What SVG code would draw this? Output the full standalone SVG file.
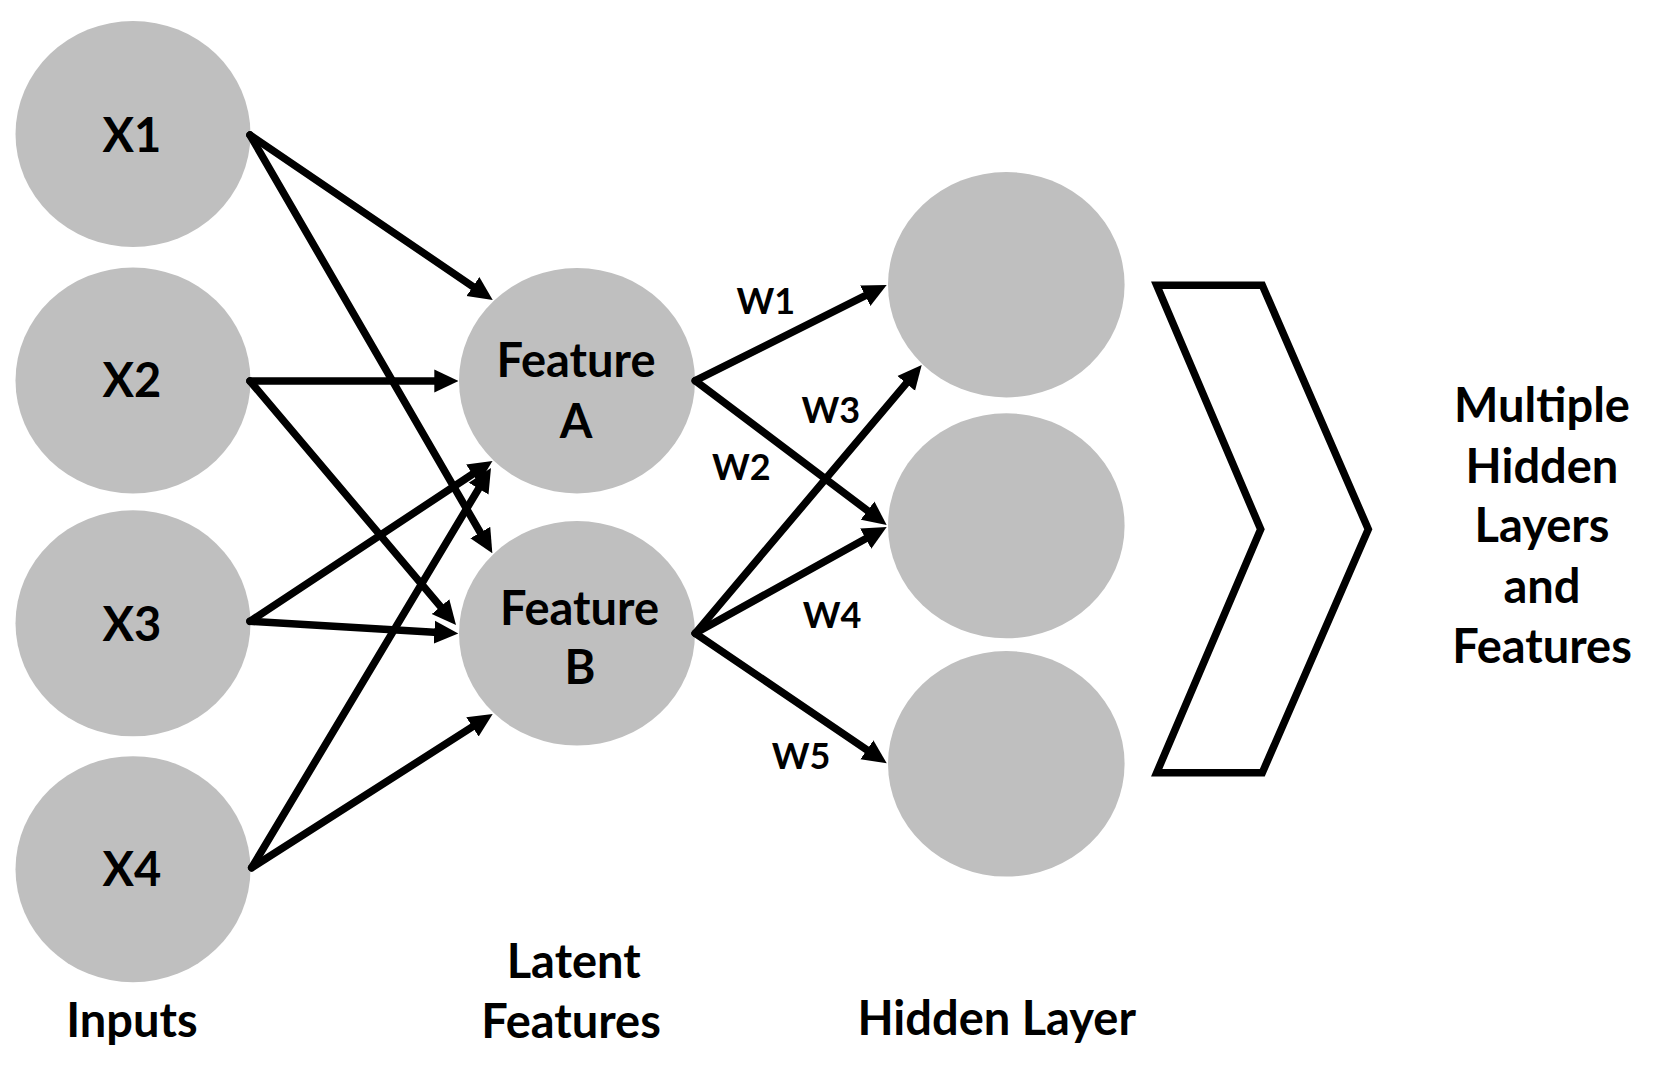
<svg xmlns="http://www.w3.org/2000/svg" width="1664" height="1065" viewBox="0 0 1664 1065">
<defs>
<style>
.node{fill:#BFBFBF;stroke:none}
.t{font-family:Lato,"Open Sans","Liberation Sans",sans-serif;font-weight:700;fill:#000;text-anchor:middle}
.big{font-size:47px}
.w{font-size:36px}
.c{stroke:#000;stroke-width:7.5;fill:none;stroke-linecap:round;marker-end:url(#ah)}
.chev{fill:#fff;stroke:#000;stroke-width:7.5;stroke-linejoin:miter}
</style>
<marker id="ah" viewBox="0 0 24 24" markerWidth="24" markerHeight="24" refX="4" refY="12" orient="auto" markerUnits="userSpaceOnUse">
<path d="M0,0.5 L24,12 L0,23.5 z" fill="#000"/>
</marker>
</defs>
<rect width="1664" height="1065" fill="#fff"/>

<g id="x1"><ellipse class="node" cx="133" cy="134" rx="117.5" ry="113"/><text class="t big" x="132" y="151.5">X1</text></g>
<g id="x2"><ellipse class="node" cx="133" cy="380.5" rx="117.5" ry="113"/><text class="t big" x="132" y="396.5">X2</text></g>
<g id="x3"><ellipse class="node" cx="133" cy="623.3" rx="117.5" ry="113"/><text class="t big" x="132" y="640.5">X3</text></g>
<g id="x4"><ellipse class="node" cx="133" cy="869.2" rx="117.5" ry="113"/><text class="t big" x="132" y="885.8">X4</text></g>

<g id="featureA"><ellipse class="node" cx="577" cy="380.7" rx="118" ry="112.7"/><text class="t big" x="576" y="377.3">Feature</text><text class="t big" x="576" y="438.3">A</text></g>
<g id="featureB"><ellipse class="node" cx="577" cy="633.3" rx="118" ry="112.3"/><text class="t big" x="579.5" y="625">Feature</text><text class="t big" x="580" y="684.3">B</text></g>

<g id="h1"><ellipse class="node" cx="1006.3" cy="284.7" rx="118.3" ry="112.7"/></g>
<g id="h2"><ellipse class="node" cx="1006.3" cy="525.8" rx="118.3" ry="112.5"/></g>
<g id="h3"><ellipse class="node" cx="1006.3" cy="763.8" rx="118.3" ry="112.8"/></g>

<g id="connectors">
<path class="c" d="M250,135 L476.2,288.8"/>
<path class="c" d="M250,135 L482.3,536"/>
<path class="c" d="M250,381 L438.3,381"/>
<path class="c" d="M250,381 L443.1,609.7"/>
<path class="c" d="M250,621.3 L475.8,472"/>
<path class="c" d="M250,621.3 L438.3,632.4"/>
<path class="c" d="M251.7,867.7 L480.7,485.2"/>
<path class="c" d="M251.7,867.7 L475.8,724.7"/>
<path class="c" d="M695.3,380.7 L868.8,293.9"/>
<path class="c" d="M695.3,380.7 L870.7,513"/>
<path class="c" d="M695.3,633.3 L908.8,380.3"/>
<path class="c" d="M695.3,633.3 L869.2,536.7"/>
<path class="c" d="M695.3,633.3 L870.2,752.1"/>
</g>

<g id="weights">
<text class="t w" x="765.8" y="314">W1</text>
<text class="t w" x="741.3" y="480">W2</text>
<text class="t w" x="830.8" y="423.3">W3</text>
<text class="t w" x="832" y="628.3">W4</text>
<text class="t w" x="801" y="769.3">W5</text>
</g>

<g id="chevron"><polygon class="chev" points="1156.7,285.3 1262.3,285.3 1368.3,529.3 1262.3,772.7 1156.7,772.7 1260.7,529.3"/></g>

<g id="labels">
<text class="t big" x="132" y="1036.7">Inputs</text>
<text class="t big" x="573.7" y="978.3">Latent</text>
<text class="t big" x="571" y="1038.3">Features</text>
<text class="t big" x="996.7" y="1035">Hidden Layer</text>
<text class="t big" x="1542" y="421.7">Multiple</text>
<text class="t big" x="1542" y="483.3">Hidden</text>
<text class="t big" x="1542" y="541.7">Layers</text>
<text class="t big" x="1542" y="603.3">and</text>
<text class="t big" x="1542" y="663.3">Features</text>
</g>
</svg>
